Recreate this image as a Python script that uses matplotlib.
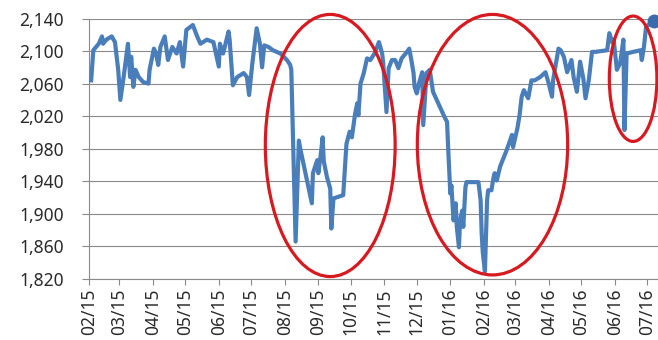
import numpy as np
import pandas as pd
import matplotlib
matplotlib.use('Agg')
import matplotlib.pyplot as plt
import matplotlib.dates as mdates
from matplotlib.patches import Ellipse
from matplotlib.ticker import FuncFormatter

plt.rcParams['font.family'] = ['Noto Sans', 'DejaVu Sans']

dates = [
    '2015-02-03', '2015-02-05', '2015-02-10', '2015-02-13', '2015-02-14', '2015-02-17',
    '2015-02-22', '2015-02-25', '2015-02-28', '2015-03-02', '2015-03-05', '2015-03-09',
    '2015-03-11', '2015-03-12', '2015-03-14', '2015-03-16', '2015-03-19', '2015-03-23',
    '2015-03-28', '2015-03-29', '2015-04-02', '2015-04-04', '2015-04-06', '2015-04-08',
    '2015-04-12', '2015-04-15', '2015-04-19', '2015-04-23', '2015-04-26', '2015-04-29',
    '2015-05-02', '2015-05-08', '2015-05-12', '2015-05-15', '2015-05-21', '2015-05-27',
    '2015-06-01', '2015-06-02', '2015-06-05', '2015-06-10', '2015-06-11', '2015-06-14',
    '2015-06-18', '2015-06-24', '2015-06-27', '2015-06-29', '2015-07-02', '2015-07-06',
    '2015-07-09', '2015-07-11', '2015-07-13', '2015-07-17', '2015-07-21', '2015-07-28',
    '2015-08-03', '2015-08-06', '2015-08-07', '2015-08-11', '2015-08-14', '2015-08-15',
    '2015-08-26', '2015-08-27', '2015-08-31', '2015-09-01', '2015-09-03', '2015-09-05',
    '2015-09-06', '2015-09-09', '2015-09-12', '2015-09-13', '2015-09-15', '2015-09-24',
    '2015-09-27', '2015-09-30', '2015-10-02', '2015-10-05', '2015-10-07', '2015-10-08',
    '2015-10-10', '2015-10-13', '2015-10-16', '2015-10-19', '2015-10-23', '2015-10-27',
    '2015-10-30', '2015-10-31', '2015-11-03', '2015-11-05', '2015-11-08', '2015-11-11',
    '2015-11-14', '2015-11-17', '2015-11-22', '2015-11-24', '2015-11-26', '2015-11-28',
    '2015-11-29', '2015-12-01', '2015-12-03', '2015-12-06', '2015-12-07', '2015-12-10',
    '2015-12-13', '2015-12-16', '2015-12-27', '2015-12-29', '2015-12-30', '2016-01-01',
    '2016-01-02', '2016-01-04', '2016-01-06', '2016-01-07', '2016-01-09', '2016-01-10',
    '2016-01-12', '2016-01-13', '2016-01-15', '2016-01-16', '2016-01-27', '2016-01-29',
    '2016-01-30', '2016-01-31', '2016-02-02', '2016-02-04', '2016-02-05', '2016-02-08',
    '2016-02-10', '2016-02-11', '2016-02-13', '2016-02-16', '2016-02-22', '2016-02-27',
    '2016-02-28', '2016-03-03', '2016-03-05', '2016-03-07', '2016-03-09', '2016-03-13',
    '2016-03-16', '2016-03-19', '2016-03-24', '2016-03-29', '2016-04-01', '2016-04-04',
    '2016-04-05', '2016-04-10', '2016-04-12', '2016-04-15', '2016-04-18', '2016-04-22',
    '2016-04-24', '2016-04-27', '2016-04-30', '2016-05-03', '2016-05-05', '2016-05-08',
    '2016-05-11', '2016-05-14', '2016-05-25', '2016-05-27', '2016-05-30', '2016-05-31',
    '2016-06-03', '2016-06-06', '2016-06-09', '2016-06-10', '2016-06-12', '2016-06-18',
    '2016-06-25', '2016-06-26', '2016-06-28', '2016-06-30', '2016-07-07',
]

index = [
    2064, 2101, 2109, 2118, 2109, 2114,
    2118, 2111, 2077, 2040, 2068, 2109,
    2068, 2093, 2056, 2077, 2068, 2062,
    2060, 2077, 2103, 2097, 2083, 2105,
    2118, 2089, 2105, 2097, 2111, 2081,
    2126, 2132, 2118, 2109, 2114, 2111,
    2081, 2109, 2097, 2124, 2114, 2058,
    2068, 2073, 2068, 2046, 2085, 2128,
    2109, 2080, 2107, 2105, 2101, 2097,
    2089, 2083, 2077, 1866, 1990, 1982,
    1913, 1950, 1966, 1950, 1970, 1994,
    1965, 1945, 1931, 1882, 1919, 1923,
    1986, 2001, 1994, 2023, 2036, 2021,
    2060, 2073, 2091, 2089, 2097, 2111,
    2097, 2085, 2025, 2079, 2089, 2089,
    2079, 2091, 2099, 2103, 2089, 2073,
    2056, 2048, 2060, 2074, 2009, 2073,
    2077, 2050, 2018, 2013, 1982, 1925,
    1935, 1892, 1913, 1884, 1859, 1892,
    1904, 1884, 1933, 1939, 1939, 1917,
    1876, 1853, 1829, 1917, 1929, 1929,
    1945, 1950, 1941, 1958, 1978, 1997,
    1982, 2005, 2021, 2044, 2052, 2042,
    2064, 2064, 2068, 2074, 2060, 2044,
    2064, 2103, 2101, 2093, 2074, 2089,
    2068, 2050, 2087, 2066, 2042, 2064,
    2099, 2099, 2101, 2122, 2110, 2114,
    2077, 2085, 2114, 2003, 2097, 2099,
    2101, 2089, 2105, 2130, 2137,
]

# circled stretches: (centre date, centre value, width in days, height in points)
circles = [
    ('2015-09-12', 1984, 120, 322),
    ('2016-02-09', 1985, 139, 320),
    ('2016-06-18', 2066, 44, 154),
]

x = pd.to_datetime(dates)
y = np.array(index)

fig = plt.figure(figsize=(6.58, 3.40), dpi=100)
ax = fig.add_axes([89 / 658, 61 / 340, 569 / 658, 260.5 / 340])

ax.plot(x, y, color='#4a7ebb', lw=3.0, zorder=3)
ax.plot(x[-1:], y[-1:], 'o', color='#3a6cad', ms=9, clip_on=False, zorder=4)

for d, v, w, h in circles:
    c = mdates.date2num(pd.Timestamp(d))
    ax.add_patch(Ellipse((c, v), w, h, fill=False, ec='#d71920', lw=2.3,
                         clip_on=False, zorder=5))

ax.set_xlim(pd.Timestamp('2015-02-01'), pd.Timestamp('2016-07-11'))
ax.set_ylim(1820, 2140)
ax.set_yticks(np.arange(1820, 2141, 40))
ax.yaxis.set_major_formatter(FuncFormatter(lambda v, p: f'{v:,.0f}'))
ax.xaxis.set_major_locator(mdates.MonthLocator())
ax.xaxis.set_major_formatter(mdates.DateFormatter('%m/%y'))
plt.setp(ax.get_xticklabels(), rotation=90)

ax.grid(axis='y', color='#8a8a8a', lw=0.8)
ax.set_axisbelow(True)
for s in ['top', 'right']:
    ax.spines[s].set_visible(False)
for s in ['left', 'bottom']:
    ax.spines[s].set_color('#8a8a8a')
    ax.spines[s].set_linewidth(0.8)

ax.tick_params(axis='y', length=5, width=0.8, color='#8a8a8a', pad=13,
               labelsize=12.5, labelcolor='#2a2a2a')
ax.tick_params(axis='x', length=4, width=0.8, color='#8a8a8a', pad=3,
               labelsize=12.5, labelcolor='#2a2a2a')

fig.savefig('out.png', dpi=100)
